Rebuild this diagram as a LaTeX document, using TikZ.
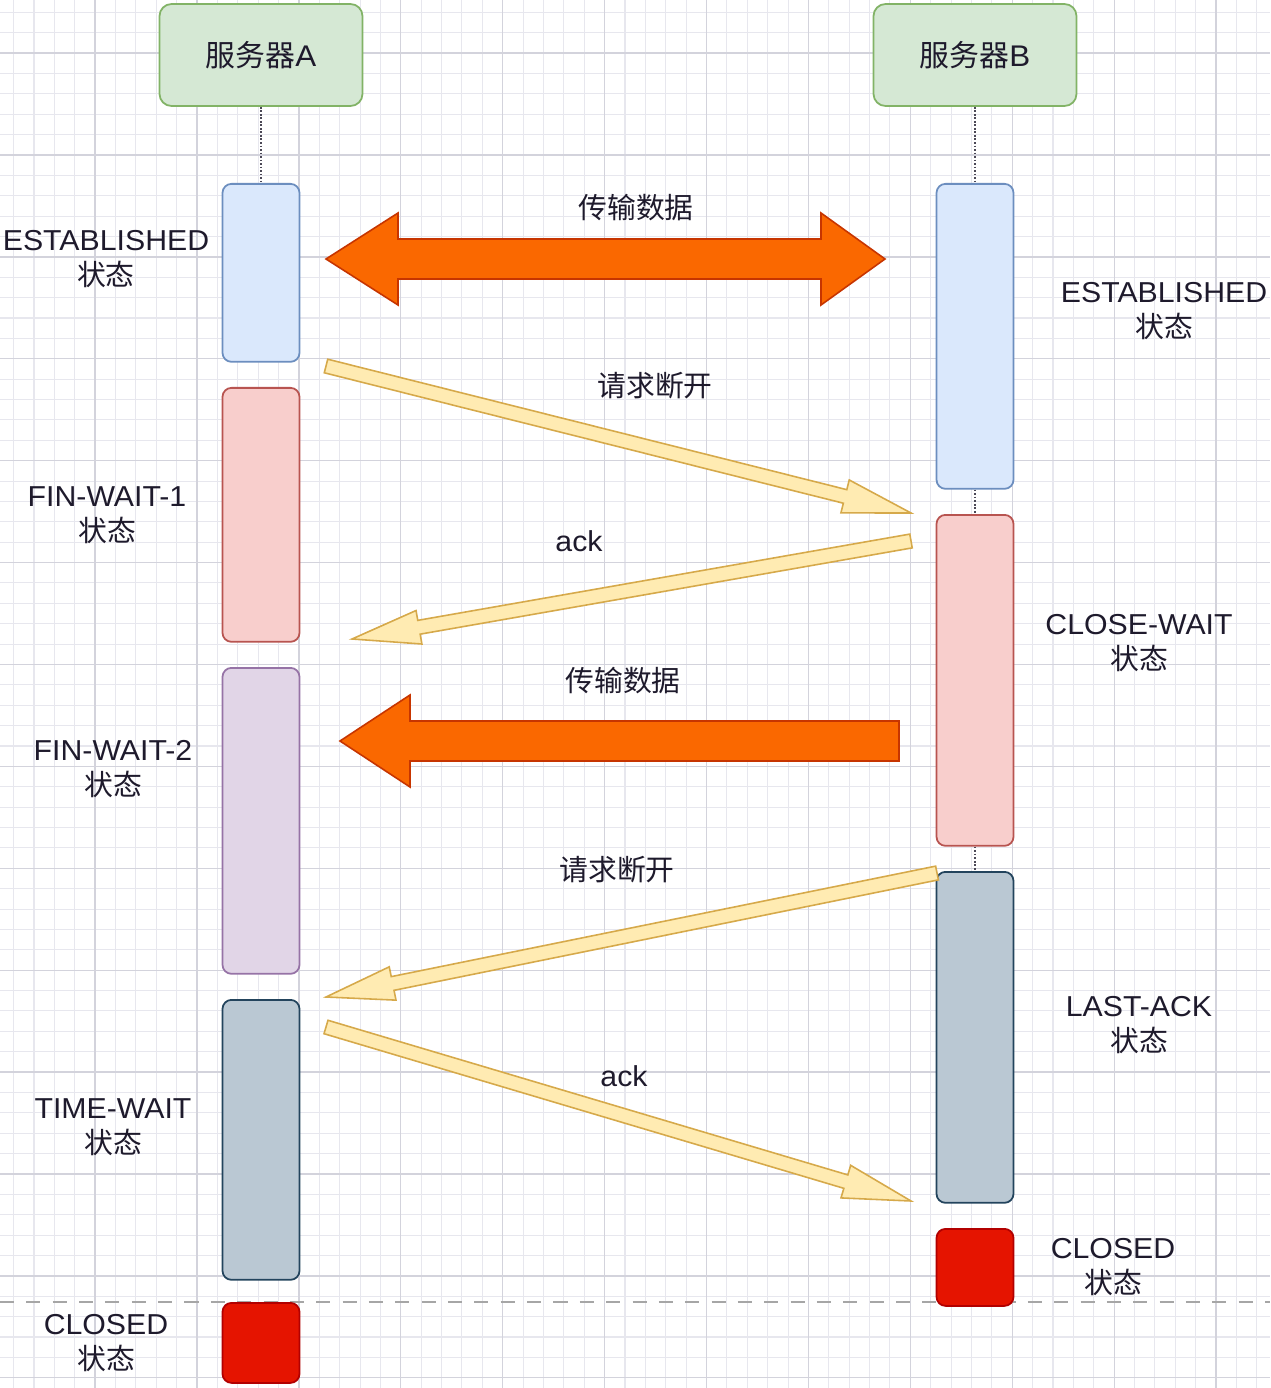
\documentclass[tikz,border=0pt]{standalone}
\usepackage{fontspec}
\setmainfont{Liberation Sans}[FakeStretch=1.05]
\newfontfamily\cjk{Noto Sans CJK SC}
\usetikzlibrary{calc}
\definecolor{gridminor}{HTML}{E7E7EE}
\definecolor{gridmajor}{HTML}{D3D3DC}
\definecolor{greenF}{HTML}{D5E8D4}\definecolor{greenS}{HTML}{82B366}
\definecolor{blueF}{HTML}{DAE8FC}\definecolor{blueS}{HTML}{6C8EBF}
\definecolor{redF}{HTML}{F8CECC}\definecolor{redS}{HTML}{B85450}
\definecolor{purpF}{HTML}{E1D5E7}\definecolor{purpS}{HTML}{9673A6}
\definecolor{slateF}{HTML}{BAC8D3}\definecolor{slateS}{HTML}{23445D}
\definecolor{closF}{HTML}{E51400}\definecolor{closS}{HTML}{B20000}
\definecolor{orF}{HTML}{FA6800}\definecolor{orS}{HTML}{C73500}
\definecolor{yeF}{HTML}{FFEBB2}\definecolor{yeS}{HTML}{D6A94A}
\definecolor{txt}{HTML}{1E1A2C}
\newcommand\fatarrow[3]{% style, from, to
  \coordinate (#2h) at ($(#3)!1.36cm!(#2)$);
  \draw[#1] ($(#2)!0.14cm!90:(#3)$) -- ($(#2h)!0.14cm!90:(#3)$) -- ($(#2h)!0.34cm!90:(#3)$)
    -- (#3) -- ($(#2h)!0.34cm!-90:(#3)$) -- ($(#2h)!0.14cm!-90:(#3)$) -- ($(#2)!0.14cm!-90:(#3)$) -- cycle;
}
\tikzset{
  srv/.style={draw=greenS,fill=greenF,line width=1pt,rounded corners=0.24cm,minimum width=4.06cm,minimum height=2.04cm,inner sep=0pt,font=\fontsize{17pt}{20pt}\selectfont,text=txt},
  bar/.style={line width=1pt,rounded corners=0.18cm,minimum width=1.54cm,inner sep=0pt,anchor=north},
  lbl/.style={align=center,font=\fontsize{16.4pt}{19.8pt}\selectfont,text=txt,inner sep=0pt},
  cjklbl/.style={lbl,font=\cjk\fontsize{16.4pt}{19.8pt}\selectfont},
  life/.style={densely dotted,line width=1pt,draw=txt!80},
  yarrow/.style={fill=yeF,draw=yeS,line width=0.9pt,line join=miter},
  oarrow/.style={fill=orF,draw=orS,line width=0.9pt},
}
\begin{document}
\begin{tikzpicture}[x=0.02cm,y=-0.02cm]
\useasboundingbox (0,0) rectangle (1270,1388);
\fill[white] (0,0) rectangle (1270,1388);
% grid
\foreach \i [evaluate=\i as \g using 13.6+20.38*\i] in {0,...,62}
  \draw[gridminor,line width=0.6pt] (\g,0) -- (\g,1388);
\foreach \i [evaluate=\i as \g using 12.3+20.38*\i] in {0,...,67}
  \draw[gridminor,line width=0.6pt] (0,\g) -- (1270,\g);
\foreach \i [evaluate=\i as \g using 95.1+101.9*\i] in {0,...,11}
  \draw[gridmajor,line width=0.7pt] (\g,0) -- (\g,1388);
\foreach \i [evaluate=\i as \g using 53.1+101.9*\i] in {0,...,13}
  \draw[gridmajor,line width=0.7pt] (0,\g) -- (1270,\g);
% dashed separator
\draw[gray!70,line width=0.8pt,dash pattern=on 8pt off 7pt] (0,1302) -- (1270,1302);

% servers
\node[srv] (sa) at (261,55) {{\cjk 服务器}A};
\node[srv] (sb) at (975,55) {{\cjk 服务器}B};

% bars A
\node[bar,draw=blueS,fill=blueF,minimum height=3.56cm] (a1) at (261,183) {};
\node[bar,draw=redS,fill=redF,minimum height=5.08cm] (a2) at (261,387) {};
\node[bar,draw=purpS,fill=purpF,minimum height=6.12cm] (a3) at (261,667) {};
\node[bar,draw=slateS,fill=slateF,minimum height=5.6cm] (a4) at (261,999) {};
\node[bar,draw=closS,fill=closF,minimum height=1.6cm] (a5) at (261,1302) {};
% bars B
\node[bar,draw=blueS,fill=blueF,minimum height=6.1cm] (b1) at (975,183) {};
\node[bar,draw=redS,fill=redF,minimum height=6.62cm] (b2) at (975,514) {};
\node[bar,draw=slateS,fill=slateF,minimum height=6.62cm] (b3) at (975,871) {};
\node[bar,draw=closS,fill=closF,minimum height=1.54cm] (b4) at (975,1228) {};

% lifelines
\draw[life] (sa.south) -- (a1.north);
\draw[life] (sb.south) -- (b1.north);
\draw[life] (b1.south) -- (b2.north);
\draw[life] (b2.south) -- (b3.north);

% state labels
\node[lbl] (la1) at (106,259) {ESTABLISHED\\{\cjk 状态}};
\node[lbl] (la2) at (107,515) {FIN-WAIT-1\\{\cjk 状态}};
\node[lbl] (la3) at (113,769) {FIN-WAIT-2\\{\cjk 状态}};
\node[lbl] (la4) at (113,1127) {TIME-WAIT\\{\cjk 状态}};
\node[lbl] (la5) at (106,1343) {CLOSED\\{\cjk 状态}};
\node[lbl] (lb1) at (1164,311) {ESTABLISHED\\{\cjk 状态}};
\node[lbl] (lb2) at (1139,643) {CLOSE-WAIT\\{\cjk 状态}};
\node[lbl] (lb3) at (1139,1025) {LAST-ACK\\{\cjk 状态}};
\node[lbl] (lb4) at (1113,1267) {CLOSED\\{\cjk 状态}};

% orange data arrows
\draw[oarrow] (326,259) -- (398,213) -- (398,239) -- (821,239) -- (821,213) -- (885,259)
  -- (821,305) -- (821,279) -- (398,279) -- (398,305) -- cycle;
\node[cjklbl] (t1) at (636,208) {传输数据};
\draw[oarrow] (340,741) -- (410,695) -- (410,721) -- (899,721) -- (899,761) -- (410,761) -- (410,787) -- cycle;
\node[cjklbl] (t2) at (623,681) {传输数据};

% yellow arrows
\coordinate (y1s) at (326,366); \coordinate (y1e) at (911,513);
\coordinate (y2s) at (911,541); \coordinate (y2e) at (352,639);
\coordinate (y3s) at (937,873); \coordinate (y3e) at (326,997);
\coordinate (y4s) at (326,1027); \coordinate (y4e) at (911,1201);
\fatarrow{yarrow}{y1s}{y1e}
\fatarrow{yarrow}{y2s}{y2e}
\fatarrow{yarrow}{y3s}{y3e}
\fatarrow{yarrow}{y4s}{y4e}
\node[cjklbl] (t3) at (655,386) {请求断开};
\node[lbl] (t4) at (579,541) {ack};
\node[cjklbl] (t5) at (617,870) {请求断开};
\node[lbl] (t6) at (624,1076) {ack};
\end{tikzpicture}
\end{document}
